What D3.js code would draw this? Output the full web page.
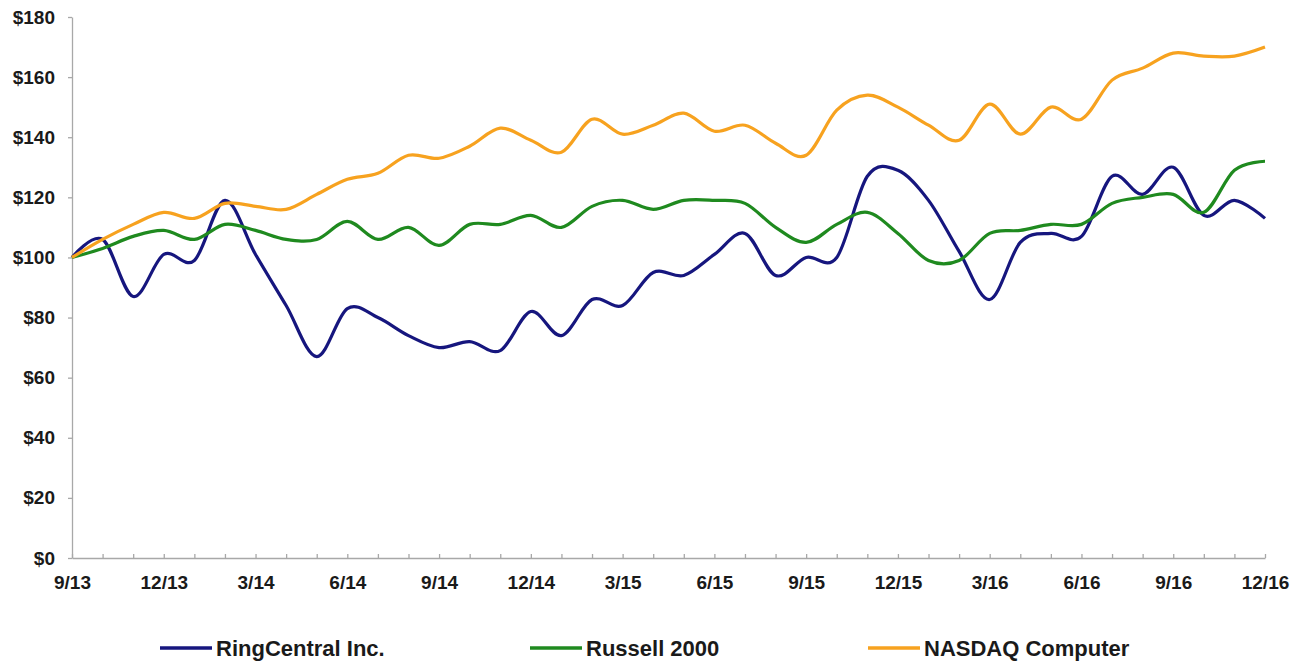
<!DOCTYPE html>
<html>
<head>
<meta charset="utf-8">
<script src="https://cdn.jsdelivr.net/npm/d3@7"></script>
<style>
  body { margin: 0; background: #fff; }
  svg text { font-family: "Liberation Sans", Arial, sans-serif; font-weight: bold; fill: #1a1a1a; }
</style>
</head>
<body>
<script>
// months on the x axis, one point per month
let months = ["9/13","10/13","11/13","12/13","1/14","2/14","3/14","4/14","5/14","6/14","7/14","8/14",
              "9/14","10/14","11/14","12/14","1/15","2/15","3/15","4/15","5/15","6/15","7/15","8/15",
              "9/15","10/15","11/15","12/15","1/16","2/16","3/16","4/16","5/16","6/16","7/16","8/16",
              "9/16","10/16","11/16","12/16"]
let xLabels = ["9/13","12/13","3/14","6/14","9/14","12/14","3/15","6/15","9/15","12/15","3/16","6/16","9/16","12/16"]
let yTicks = [0, 20, 40, 60, 80, 100, 120, 140, 160, 180]

let seriesNames = ["RingCentral Inc.", "Russell 2000", "NASDAQ Computer"]
let seriesColors = ["#16167e", "#1f8a1f", "#f7a21f"]

let ringCentral = [100,106,87,101,99,119,101,84,67,83,80,74,70,72,69,82,74,86,84,95,94,101,108,94,
                   100,100,127,129,119,102,86,105,108,107,127,121,130,114,119,113]
let russell2000 = [100,103,107,109,106,111,109,106,106,112,106,110,104,111,111,114,110,117,119,116,119,119,118,110,
                   105,111,115,108,99,99,108,109,111,111,118,120,121,115,129,132]
let nasdaqComputer = [100,106,111,115,113,118,117,116,121,126,128,134,133,137,143,139,135,146,141,144,148,142,144,138,
                      134,149,154,150,144,139,151,141,150,146,159,163,168,167,167,170]

let seriesValues = [ringCentral, russell2000, nasdaqComputer]

let width = 1304
let height = 665
let plotLeft = 72, plotRight = 1265, plotTop = 17, plotBottom = 558

let svg = d3.select("body")
            .append("svg")
            .attr("width", width)
            .attr("height", height)

let xScale = d3.scalePoint()
               .domain(months)
               .range([plotLeft, plotRight])

let yScale = d3.scaleLinear()
               .domain([0, 180])
               .range([plotBottom, plotTop])

// axes
let xAxis = d3.axisBottom(xScale)
              .tickSizeInner(-4)
              .tickSizeOuter(0)
              .tickPadding(18)
              .tickFormat(d => xLabels.includes(d) ? d : "")

let yAxis = d3.axisLeft(yScale)
              .tickValues(yTicks)
              .tickSizeInner(4)
              .tickSizeOuter(0)
              .tickPadding(13)
              .tickFormat(d => "$" + d)

svg.append("g")
   .attr("transform", "translate(0," + plotBottom + ")")
   .call(xAxis)

svg.append("g")
   .attr("transform", "translate(" + plotLeft + ",0)")
   .call(yAxis)

svg.selectAll(".domain, .tick line")
   .attr("stroke", "#a8a8a8")
   .attr("stroke-width", 1.3)

svg.selectAll(".tick text")
   .style("font-size", "19px")
   .attr("fill", "#1a1a1a")

// lines
let line = d3.line()
             .x((d, i) => xScale(months[i]))
             .y(d => yScale(d))
             .curve(d3.curveCatmullRom.alpha(0))

svg.selectAll(".series")
   .data(seriesValues)
   .enter()
   .append("path")
   .attr("class", "series")
   .attr("d", d => line(d))
   .attr("fill", "none")
   .attr("stroke", (d, i) => seriesColors[i])
   .attr("stroke-width", 3.2)
   .attr("stroke-linejoin", "round")

// legend
let legendX = [160, 530, 868]
let legend = svg.selectAll(".legend")
                .data(seriesNames)
                .enter()
                .append("g")
                .attr("class", "legend")
                .attr("transform", (d, i) => "translate(" + legendX[i] + ",648)")

legend.append("line")
      .attr("x1", 0)
      .attr("x2", 52)
      .attr("stroke", (d, i) => seriesColors[i])
      .attr("stroke-width", 3.5)

legend.append("text")
      .attr("x", 56)
      .attr("dy", "0.36em")
      .style("font-size", "22px")
      .text(d => d)
</script>
</body>
</html>
